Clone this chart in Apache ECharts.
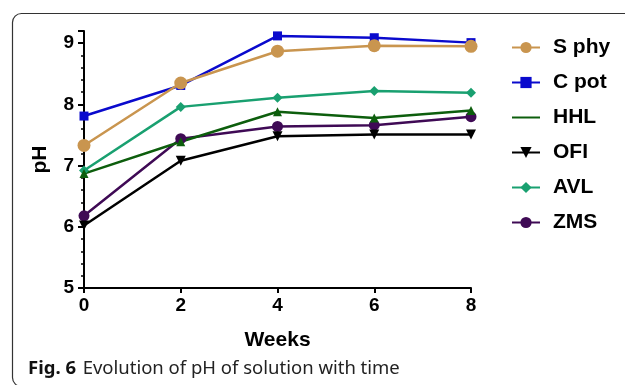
<!DOCTYPE html>
<html>
<head>
<meta charset="utf-8">
<script src="https://cdn.jsdelivr.net/npm/echarts@6/dist/echarts.min.js"></script>
<style>
html,body{margin:0;padding:0;background:#fff;}
#chart{width:625px;height:385px;}
</style>
</head>
<body>
<div id="chart"></div>
<script>
var weeks = [0, 2, 4, 6, 8];
var sPhy = [7.33, 8.35, 8.87, 8.96, 8.95];
var cPot = [7.81, 8.31, 9.12, 9.09, 9.01];
var hhl  = [6.87, 7.39, 7.88, 7.78, 7.90];
var ofi  = [6.02, 7.08, 7.48, 7.51, 7.51];
var avl  = [6.92, 7.96, 8.11, 8.22, 8.19];
var zms  = [6.18, 7.44, 7.64, 7.66, 7.80];
var seriesNames = ['S phy', 'C pot', 'HHL', 'OFI', 'AVL', 'ZMS'];
var yTicks = [5, 6, 7, 8, 9];
var xTicks = [0, 2, 4, 6, 8];

function pairs(v) { return weeks.map(function (w, i) { return [w, v[i]]; }); }

var chart = echarts.init(document.getElementById('chart'), null, {renderer: 'canvas'});

function mk(name, data, color, symbol, size) {
  return {
    name: name, type: 'line', data: pairs(data),
    symbol: symbol, symbolSize: size,
    lineStyle: {color: color, width: 2.5},
    itemStyle: {color: color},
    emphasis: {disabled: true},
    animation: false
  };
}

var font = 'Arial, "Liberation Sans", sans-serif';

chart.setOption({
  animation: false,
  grid: {left: 84, right: 154, top: 31, bottom: 97, containLabel: false},
  xAxis: {
    type: 'value', min: 0, max: 8, interval: 2,
    name: 'Weeks', nameLocation: 'middle', nameGap: 42,
    nameTextStyle: {fontFamily: font, fontWeight: 'bold', fontSize: 21, color: '#000'},
    axisLine: {show: true, lineStyle: {color: '#000', width: 2}},
    axisTick: {show: true, length: 5, lineStyle: {color: '#000', width: 2}},
    axisLabel: {fontFamily: font, fontWeight: 'bold', fontSize: 19, color: '#000', margin: 8,
      formatter: function (v) { return xTicks.indexOf(v) >= 0 ? String(v) : ''; }},
    splitLine: {show: false}
  },
  yAxis: {
    type: 'value', min: 5, max: 9.2, interval: 1,
    name: 'pH', nameLocation: 'middle', nameGap: 33, nameRotate: 90,
    nameTextStyle: {fontFamily: font, fontWeight: 'bold', fontSize: 21, color: '#000'},
    axisLine: {show: true, onZero: false, lineStyle: {color: '#000', width: 2}},
    axisTick: {show: true, length: 6, lineStyle: {color: '#000', width: 2}},
    minorTick: {show: true, splitNumber: 5, length: 3, lineStyle: {color: '#000', width: 1.5}},
    axisLabel: {fontFamily: font, fontWeight: 'bold', fontSize: 19, color: '#000', margin: 10, showMaxLabel: false,
      formatter: function (v) { return yTicks.indexOf(v) >= 0 ? String(v) : ''; }},
    splitLine: {show: false}
  },
  legend: {
    orient: 'vertical', left: 511, top: 37, padding: 0,
    itemWidth: 28, itemHeight: 14, itemGap: 14,
    textStyle: {fontFamily: font, fontWeight: 'bold', fontSize: 21, color: '#000', padding: [0, 0, 0, 8]},
    data: [
      {name: 'S phy'}, {name: 'C pot'},
      {name: 'HHL', itemStyle: {opacity: 0}},
      {name: 'OFI'}, {name: 'AVL'}, {name: 'ZMS'}
    ]
  },
  series: [
    mk('ZMS', zms, '#3f0a55', 'circle', 11),
    mk('OFI', ofi, '#000000', 'path://M0,0 L10,0 L5,9 Z', 10),
    mk('AVL', avl, '#19a070', 'diamond', 10),
    mk('HHL', hhl, '#0d5e0d', 'triangle', 9),
    mk('C pot', cPot, '#0a0acd', 'rect', 9),
    mk('S phy', sPhy, '#c9954f', 'circle', 13)
  ],
  graphic: [
    {type: 'rect', shape: {x: 12.5, y: 13.5, width: 700, height: 373, r: 9}, silent: true,
      style: {fill: 'none', stroke: '#333', lineWidth: 1.2}},
    {type: 'text', left: 28, top: 359, silent: true,
      style: {
        text: '{b|Fig. 6}  {r|Evolution of pH of solution with time}',
        rich: {
          b: {fontFamily: 'Noto Sans', fontWeight: 'bold', fontSize: 18.5, fill: '#111'},
          r: {fontFamily: 'Noto Sans', fontSize: 18.5, fill: '#222'}
        }
      }}
  ]
});
</script>
</body>
</html>
